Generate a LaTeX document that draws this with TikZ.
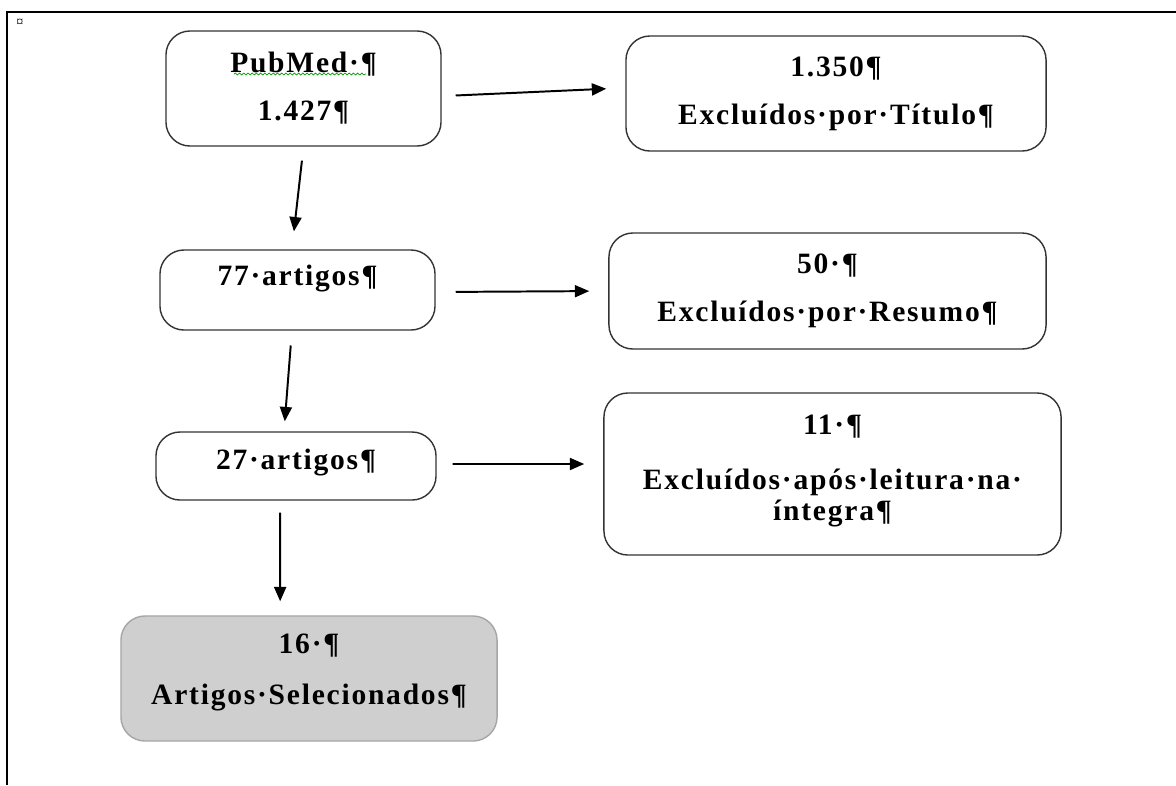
\documentclass[tikz,border=0pt]{standalone}
\usepackage{fontspec}
\setmainfont{Liberation Serif}[LetterSpace=6]
\usetikzlibrary{arrows.meta,positioning,decorations.pathmorphing}

\begin{document}
\begin{tikzpicture}[
    x=0.025cm, y=-0.025cm,
    every node/.style={font=\bfseries\fontsize{21}{22}\selectfont, align=center},
    bx/.style={rectangle, rounded corners=0.6cm, draw=black!80, line width=1pt, inner sep=2pt},
    sel/.style={bx, draw=black!35, fill=black!19},
    e/.style={-{Triangle[length=3.6mm, width=3mm]}, line width=1.4pt},
  ]
  \useasboundingbox (0,0) rectangle (1176,785);
  % moldura da tabela
  \draw[line width=1.1pt] (1176,12) -- (7,12) -- (7,785);
  \node[font=\fontsize{10}{11}\selectfont, inner sep=0pt] (cel) at (20,23) {¤};
  % caixas
  \node[bx, minimum width=6.875cm, minimum height=2.875cm] (pub) at (303.5,88.5)
    {PubMed·¶\\[12pt] 1.427¶};
  \node[bx, minimum width=10.5cm, minimum height=2.875cm] (tit) at (836,93.5)
    {1.350¶\\[12pt] Excluídos·por·Título¶};
  \node[bx, minimum width=6.875cm, minimum height=2cm, text depth=0.75cm] (a77) at (297.5,290)
    {77·artigos¶};
  \node[bx, minimum width=10.925cm, minimum height=2.9cm] (res) at (827.5,291)
    {50·¶\\[12pt] Excluídos·por·Resumo¶};
  \node[bx, minimum width=7cm, minimum height=1.7cm, text depth=0.35cm] (a27) at (296,466)
    {27·artigos¶};
  \node[bx, minimum width=11.425cm, minimum height=4.05cm, text depth=0.3cm] (int) at (832.5,474)
    {11·¶\\[17pt] Excluídos·após·leitura·na·\\ íntegra¶};
  \node[sel, minimum width=9.4cm, minimum height=3.125cm, text depth=0.45cm] (fim) at (309,678.5)
    {16·¶\\[14pt] Artigos·Selecionados¶};
  % sublinhado ortografico
  \draw[green!60!black, line width=0.5pt, decorate,
        decoration={snake, amplitude=0.7pt, segment length=3pt}] (234,74) -- (366,74);
  % setas
  \draw[e, shorten <=0.35cm, shorten >=0.475cm]
    ([yshift=-0.19cm]pub.east) -- ([yshift=0.14cm]tit.west);
  \draw[e, shorten <=0.5cm, shorten >=0.475cm]
    ([yshift=-0.05cm]a77.east) -- (res.west);
  \draw[e, shorten <=0.4cm, shorten >=0.475cm]
    ([yshift=0.05cm]a27.east) -- ([yshift=0.25cm]int.west);
  \draw[e, shorten <=0.35cm, shorten >=0.45cm]
    (pub.south) -- ([xshift=-0.14cm]a77.north);
  \draw[e, shorten <=0.37cm, shorten >=0.25cm]
    ([xshift=-0.14cm]a77.south) -- ([xshift=-0.3cm]a27.north);
  \draw[e, shorten <=0.3cm, shorten >=0.35cm]
    ([xshift=-0.4cm]a27.south) -- ([xshift=-0.72cm]fim.north);
\end{tikzpicture}
\end{document}
